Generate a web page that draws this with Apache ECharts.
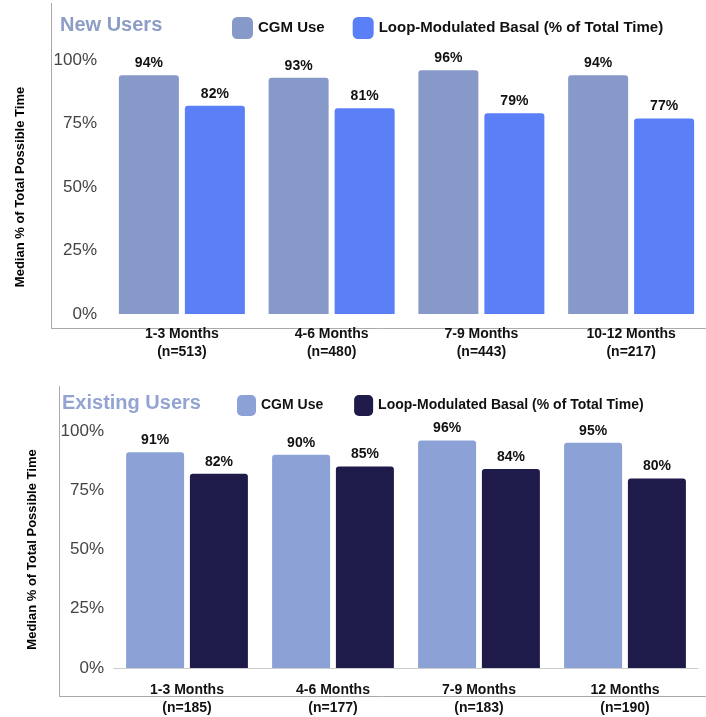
<!DOCTYPE html>
<html>
<head>
<meta charset="utf-8">
<script src="https://cdn.jsdelivr.net/npm/echarts@6/dist/echarts.min.js"></script>
<style>
  html, body { margin: 0; padding: 0; background: #fff; }
  #main { width: 706px; height: 717px; }
</style>
</head>
<body>
<div id="main"></div>
<script>
// data
var newCategories = ['1-3 Months\n(n=513)', '4-6 Months\n(n=480)', '7-9 Months\n(n=443)', '10-12 Months\n(n=217)'];
var newCgm = [94, 93, 96, 94];
var newLoop = [82, 81, 79, 77];

var existCategories = ['1-3 Months\n(n=185)', '4-6 Months\n(n=177)', '7-9 Months\n(n=183)', '12 Months\n(n=190)'];
var existCgm = [91, 90, 96, 95];
var existLoop = [82, 85, 84, 80];

var yTicks = [0, 25, 50, 75, 100];

var FONT = '"Liberation Sans", Arial, sans-serif';

var chart = echarts.init(document.getElementById('main'));

function yAxisFor(gridIndex, gap) {
  return {
    type: 'value',
    gridIndex: gridIndex,
    min: 0,
    max: 100,
    interval: 25,
    name: 'Median % of Total Possible Time',
    nameLocation: 'middle',
    nameGap: gap,
    nameTextStyle: { fontFamily: FONT, fontWeight: 'bold', fontSize: 13, color: '#000' },
    axisLine: { show: false },
    axisTick: { show: false },
    splitLine: { show: false },
    axisLabel: {
      margin: 10,
      fontFamily: FONT,
      fontSize: 17,
      color: '#444',
      formatter: function (v) { return yTicks.indexOf(v) >= 0 ? v + '%' : ''; }
    }
  };
}

function xAxisFor(gridIndex, cats, showLine, margin) {
  return {
    type: 'category',
    gridIndex: gridIndex,
    data: cats,
    axisTick: { show: false },
    axisLine: { show: showLine, lineStyle: { color: '#ccc', width: 1 } },
    axisLabel: {
      margin: margin,
      fontFamily: FONT,
      fontWeight: 'bold',
      fontSize: 14,
      lineHeight: 18,
      color: '#111'
    }
  };
}

function barSeries(name, data, color, xi, width) {
  return {
    name: name,
    type: 'bar',
    xAxisIndex: xi,
    yAxisIndex: xi,
    data: data,
    barWidth: width,
    barGap: '10%',
    itemStyle: { color: color, borderRadius: [3, 3, 0, 0] },
    label: {
      show: true,
      position: 'top',
      distance: 5,
      formatter: '{c}%',
      fontFamily: FONT,
      fontWeight: 'bold',
      fontSize: 14,
      color: '#111'
    }
  };
}

var option = {
  backgroundColor: '#fff',
  animation: false,
  title: [
    { text: 'New Users', left: 55, top: 10, textStyle: { fontFamily: FONT, fontWeight: 'bold', fontSize: 20, color: '#8c9dc6' } },
    { text: 'Existing Users', left: 57, top: 388, textStyle: { fontFamily: FONT, fontWeight: 'bold', fontSize: 20, color: '#93a4d2' } }
  ],
  legend: [
    {
      left: 227, top: 12, itemWidth: 21, itemHeight: 22, itemGap: 28, icon: 'roundRect',
      textStyle: { fontFamily: FONT, fontWeight: 'bold', fontSize: 15, color: '#111' },
      data: ['CGM Use', 'Loop-Modulated Basal (% of Total Time)']
    },
    {
      left: 232, top: 390, itemWidth: 19, itemHeight: 21, itemGap: 27, icon: 'roundRect',
      textStyle: { fontFamily: FONT, fontWeight: 'bold', fontSize: 14, color: '#111' },
      data: ['CGM Use ', 'Loop-Modulated Basal (% of Total Time) ']
    }
  ],
  grid: [
    { left: 107, top: 60, width: 602, height: 254 },
    { left: 114, top: 431, width: 584, height: 247 }
  ],
  xAxis: [
    xAxisFor(0, newCategories, false, 11),
    xAxisFor(1, existCategories, true, 13)
  ],
  yAxis: [yAxisFor(0, 80), yAxisFor(1, 75)],
  series: [
    barSeries('CGM Use', newCgm, '#8799c8', 0, 60),
    barSeries('Loop-Modulated Basal (% of Total Time)', newLoop, '#5b7ff6', 0, 60),
    barSeries('CGM Use ', existCgm, '#8ca2d6', 1, 58),
    barSeries('Loop-Modulated Basal (% of Total Time) ', existLoop, '#1e1b4b', 1, 58)
  ],
  graphic: [
    { type: 'line', shape: { x1: 51.5, y1: 3, x2: 51.5, y2: 328 }, style: { stroke: '#aaa', lineWidth: 1 } },
    { type: 'line', shape: { x1: 51, y1: 328.5, x2: 706, y2: 328.5 }, style: { stroke: '#aaa', lineWidth: 1 } },
    { type: 'line', shape: { x1: 59.5, y1: 386, x2: 59.5, y2: 696 }, style: { stroke: '#aaa', lineWidth: 1 } },
    { type: 'line', shape: { x1: 59, y1: 696.5, x2: 706, y2: 696.5 }, style: { stroke: '#aaa', lineWidth: 1 } }
  ]
};

chart.setOption(option);
</script>
</body>
</html>
